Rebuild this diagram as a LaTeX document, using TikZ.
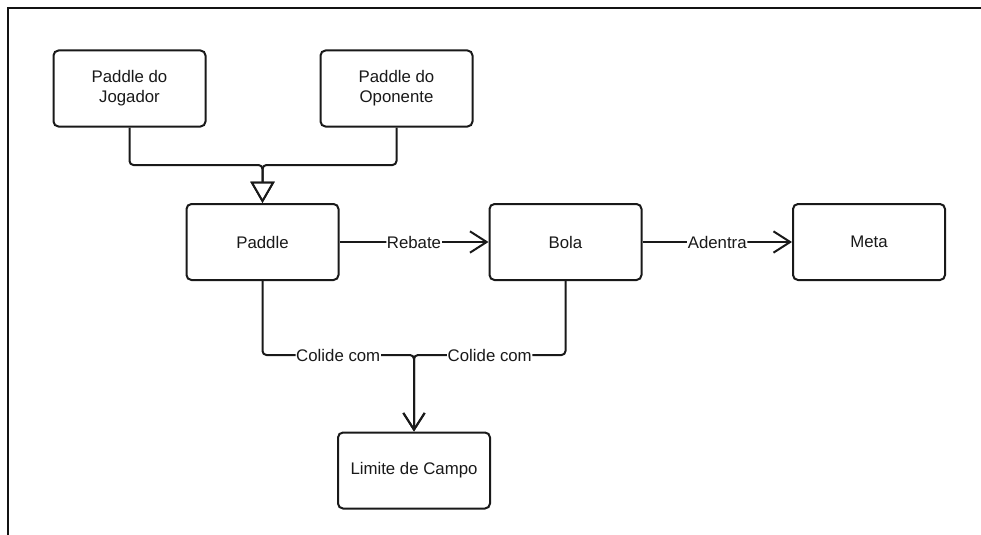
\documentclass[tikz,border=0pt]{standalone}
\usepackage{fontspec}
\setmainfont{Liberation Sans}
\usetikzlibrary{arrows.meta}

\begin{document}
\begin{tikzpicture}[x=0.75pt,y=-0.75pt,
		box/.style={draw=black!90,line width=1.5pt,rounded corners=3.75pt,minimum width=114pt,minimum height=57pt,align=center,text=black!90,font=\fontsize{12.6}{15}\selectfont},
		conn/.style={draw=black!90,line width=1.5pt,rounded corners=3pt},
		gen/.style={conn,-{Triangle[open,fill=white,length=16pt,width=18pt,line width=1.5pt]}},
		rel/.style={conn,-{Straight Barb[length=12.5pt,width=16pt,line width=1.5pt]}},
		lbl/.style={fill=white,inner sep=0.5pt,text=black!90,font=\fontsize{12.6}{15}\selectfont}]

		\useasboundingbox (0,0) rectangle (981,535);
		\draw[line width=1.9pt,color=black!85!gray] (8,535) -- (8,8) -- (981,8);

		\node[box] (jog)  at (129.5, 88.5) {Paddle do\\Jogador};
		\node[box] (opo)  at (396.5, 88.5) {Paddle do\\Oponente};

		\node[box] (pad)  at (262.5,242.0) {Paddle};
		\node[box] (bola) at (565.5,242.0) {Bola};
		\node[box] (meta) at (869.0,242.0) {Meta};

		\node[box] (lim)  at (414.0,470.5) {Limite de Campo};

		\coordinate (j1) at (262.5,165);
		\coordinate (c1) at (414,355);

		\draw[gen] (jog.south) |- (j1) -- (pad.north);
		\draw[gen] (opo.south) |- (j1) -- (pad.north);

		\draw[rel] (pad) to node[lbl] {Rebate} (bola);
		\draw[rel] (bola) to node[lbl] {Adentra} (meta);

		\draw[rel] (pad.south) |- node[lbl,pos=0.75] {Colide com} (c1) -- (lim.north);
		\draw[rel] (bola.south) |- node[lbl,pos=0.75] {Colide com} (c1) -- (lim.north);

	\end{tikzpicture}
\end{document}
